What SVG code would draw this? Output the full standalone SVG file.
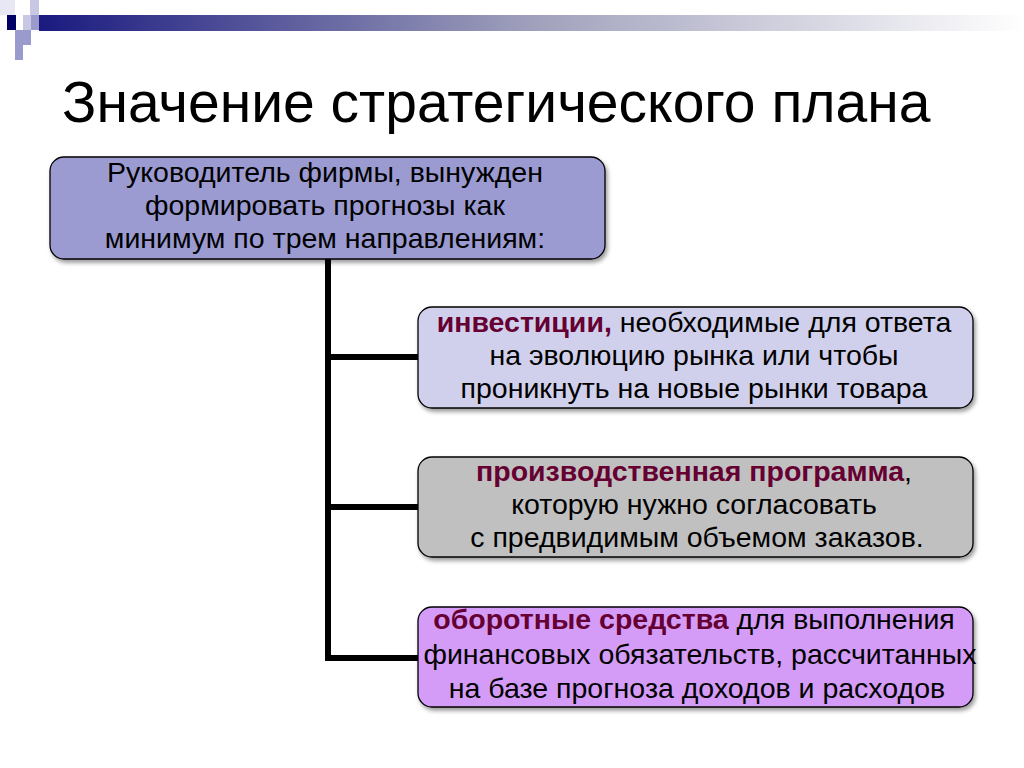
<svg xmlns="http://www.w3.org/2000/svg" width="1024" height="768" viewBox="0 0 1024 768">
<defs>
<linearGradient id="bar" x1="0" x2="1" y1="0" y2="0"><stop offset="0" stop-color="#1a1a80"/><stop offset="0.5" stop-color="#a0a0bc"/><stop offset="1" stop-color="#ffffff"/></linearGradient>
<filter id="sh" x="-5%" y="-5%" width="110%" height="120%"><feDropShadow dx="2" dy="3" stdDeviation="2" flood-color="#000" flood-opacity="0.4"/></filter>
</defs>
<style>
.box{stroke:#000;stroke-width:1.3;filter:url(#sh)}
text{font-family:"Liberation Sans",Arial,sans-serif;font-size:28.5px;fill:#000;text-anchor:middle}
.b{font-weight:bold;fill:#660033}
.c{stroke:#000;stroke-width:6;fill:none}
</style>
<rect width="1024" height="768" fill="#fff"/>
<g id="decor">
<rect x="39" y="15" width="985" height="16" fill="url(#bar)"/>
<rect x="0" y="0" width="15" height="15" fill="#e8e8f4"/>
<rect x="30" y="0" width="9" height="15" fill="#c8c8e4"/>
<rect x="7" y="15" width="9" height="15" fill="#000066"/>
<rect x="23" y="15" width="8" height="15" fill="#c8c8e4"/>
<rect x="31" y="15" width="8" height="15" fill="#9a9acc"/>
<rect x="15" y="30" width="16" height="15" fill="#9a9acc"/>
<rect x="15" y="45" width="8" height="15" fill="#9a9acc"/>
</g>
<text x="62" y="122" style="font-size:57px;text-anchor:start">Значение стратегического плана</text>
<g id="connectors">
<path class="c" d="M328 259 V658 H418 M328 357 H418 M328 507 H418"/>
</g>
<g id="n1">
<rect class="box" x="50" y="157" width="555" height="102" rx="14" fill="#9b9bd2"/>
<text x="325" y="182">Руководитель фирмы, вынужден</text>
<text x="325" y="215">формировать прогнозы как</text>
<text x="325" y="248">минимум по трем направлениям:</text>
</g>
<g id="n2">
<rect class="box" x="418" y="307" width="555" height="101" rx="14" fill="#d0d0ec"/>
<text x="694" y="332"><tspan class="b">инвестиции,</tspan> необходимые для ответа</text>
<text x="694" y="365">на эволюцию рынка или чтобы</text>
<text x="694" y="398">проникнуть на новые рынки товара</text>
</g>
<g id="n3">
<rect class="box" x="418" y="457" width="555" height="100" rx="14" fill="#c0c0c0"/>
<text x="694" y="481"><tspan class="b">производственная программа</tspan>,</text>
<text x="694" y="514">которую нужно согласовать</text>
<text x="697" y="547">с предвидимым  объемом заказов.</text>
</g>
<g id="n4">
<rect class="box" x="418" y="607" width="555" height="100" rx="14" fill="#d49cf7"/>
<text x="694" y="629"><tspan class="b">оборотные средства</tspan> для выполнения</text>
<text x="700" y="664">финансовых обязательств, рассчитанных</text>
<text x="697" y="698">на базе прогноза доходов и расходов</text>
</g>
</svg>
